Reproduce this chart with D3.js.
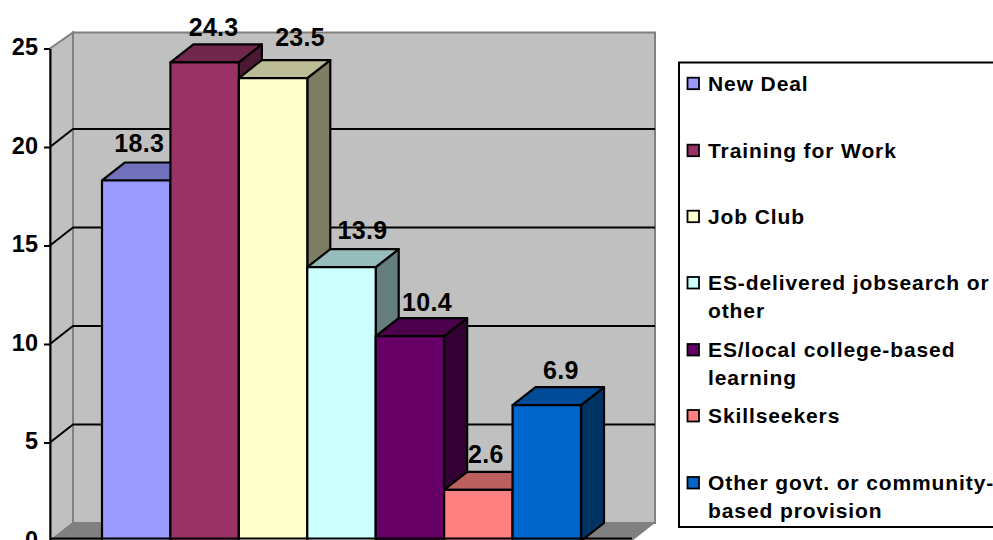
<!DOCTYPE html>
<html>
<head>
<meta charset="utf-8">
<script src="https://cdn.jsdelivr.net/npm/d3@7"></script>
<style>
	html, body { margin: 0; padding: 0; background: #fff; overflow: hidden; }
	svg { display: block; font-family: 'Liberation Sans', Arial, sans-serif; font-weight: bold; }
</style>
</head>
<body>
<div id="chart"></div>
<script>
const categories = [
	'New Deal',
	'Training for Work',
	'Job Club',
	'ES-delivered jobsearch or other',
	'ES/local college-based learning',
	'Skillseekers',
	'Other govt. or community-based provision'
];
const values = [18.3, 24.3, 23.5, 13.9, 10.4, 2.6, 6.9];
const colors = ['#9999ff', '#993366', '#ffffcc', '#ccffff', '#660066', '#ff8080', '#0066cc'];
const yTicks = [0, 5, 10, 15, 20, 25];
const legendLines = [
	['New Deal'],
	['Training for Work'],
	['Job Club'],
	['ES-delivered jobsearch or', 'other'],
	['ES/local college-based', 'learning'],
	['Skillseekers'],
	['Other govt. or community-', 'based provision']
];

// depth of the fake 3d box
const depthX = 23;
const depthY = 18;

const svg = d3.select('#chart').append('svg').attr('width', 993).attr('height', 540);

const x = d3.scaleBand().domain(categories).range([102, 581]).padding(0);
const y = d3.scaleLinear().domain([0, 25]).range([541, 48.5]);

const axisX = 50;
const floorRight = 632;

// walls and floor
svg.append('path')
	.attr('d', `M${axisX},${y(25)}L${axisX + depthX},${y(25) - 16}V${y(0) - depthY}L${axisX},${y(0)}Z`)
	.attr('fill', '#c0c0c0')
	.attr('stroke', '#808080')
	.attr('stroke-width', 2);
svg.append('rect')
	.attr('x', axisX + depthX)
	.attr('y', y(25) - 16)
	.attr('width', floorRight - axisX)
	.attr('height', y(0) - depthY - y(25) + 16)
	.attr('fill', '#c0c0c0')
	.attr('stroke', '#808080')
	.attr('stroke-width', 2);
svg.append('path')
	.attr('d', `M${axisX},${y(0)}L${axisX + depthX},${y(0) - depthY}H${floorRight + depthX}L${floorRight},${y(0)}Z`)
	.attr('fill', '#808080');

// gridlines
const grid = svg.append('g').attr('fill', 'none').attr('stroke', '#000').attr('stroke-width', 2);
yTicks.filter((t) => t > 0 && t < 25).forEach((t) => {
	grid.append('path').attr(
		'd',
		`M${axisX},${y(t)}L${axisX + depthX},${y(t) - depthY}H${floorRight + depthX}`
	);
});

const yAxis = svg
	.append('g')
	.attr('transform', `translate(${axisX},0)`)
	.call(d3.axisLeft(y).tickValues(yTicks).tickSize(6).tickPadding(6).tickSizeOuter(0));
yAxis.select('.domain').attr('stroke', '#000').attr('stroke-width', 2);
yAxis.selectAll('.tick line').attr('stroke', '#000').attr('stroke-width', 2);
yAxis.selectAll('text')
	.attr('font-family', "'Liberation Sans', Arial, sans-serif")
	.attr('font-size', 23.5)
	.attr('font-weight', 'bold')
	.attr('fill', '#000')
	.attr('dy', '0.26em');

// bars
const bars = svg
	.selectAll('.bar')
	.data(categories)
	.enter()
	.append('g')
	.attr('class', 'bar')
	.attr('stroke', '#000')
	.attr('stroke-width', 2.2)
	.attr('stroke-linejoin', 'round');

bars.append('path')
	.attr('d', (d, i) => {
		const x1 = x(d) + x.bandwidth();
		return `M${x1},${y(values[i])}l${depthX},${-depthY}V${y(0) - depthY}L${x1},${y(0)}Z`;
	})
	.attr('fill', (d, i) => d3.color(colors[i]).darker(2).formatHex());
bars.append('path')
	.attr('d', (d, i) => {
		const x0 = x(d);
		const w = x.bandwidth();
		return `M${x0},${y(values[i])}l${depthX},${-depthY}h${w}l${-depthX},${depthY}Z`;
	})
	.attr('fill', (d, i) => d3.color(colors[i]).darker(0.85).formatHex());
bars.append('rect')
	.attr('x', (d) => x(d))
	.attr('y', (d, i) => y(values[i]))
	.attr('width', x.bandwidth())
	.attr('height', (d, i) => y(0) - y(values[i]))
	.attr('fill', (d, i) => colors[i]);

svg.append('line')
	.attr('x1', axisX)
	.attr('x2', floorRight)
	.attr('y1', 538.5)
	.attr('y2', 538.5)
	.attr('stroke', '#000')
	.attr('stroke-width', 2);

// data labels were dragged around by hand in the original
const labelDx = [3, 9, 27, 21, 17, 7.5, 14];
const labelDy = [-28.7, -26, -32, -28.5, -25, -27, -26];

svg.selectAll('.value-label')
	.data(categories)
	.enter()
	.append('text')
	.attr('class', 'value-label')
	.attr('x', (d, i) => x(d) + x.bandwidth() / 2 + labelDx[i])
	.attr('y', (d, i) => y(values[i]) + labelDy[i])
	.attr('text-anchor', 'middle')
	.attr('font-size', 25)
	.attr('letter-spacing', 0.3)
	.text((d, i) => values[i].toFixed(1));

// legend
svg.append('rect')
	.attr('x', 679)
	.attr('y', 62.5)
	.attr('width', 340)
	.attr('height', 464.5)
	.attr('fill', '#fff')
	.attr('stroke', '#000')
	.attr('stroke-width', 2);

const legendBaselines = [90.7, 157.7, 223.7, 290, 357, 423, 490];
const legendItems = svg
	.selectAll('.legend-item')
	.data(legendLines)
	.enter()
	.append('g')
	.attr('class', 'legend-item')
	.attr('transform', (d, i) => `translate(0,${legendBaselines[i]})`);

legendItems.append('rect')
	.attr('x', 687.5)
	.attr('y', -13)
	.attr('width', 11.5)
	.attr('height', 11.5)
	.attr('fill', (d, i) => colors[i])
	.attr('stroke', '#000')
	.attr('stroke-width', 1.8);

legendItems.append('text')
	.attr('font-size', 21)
	.attr('letter-spacing', 0.9)
	.selectAll('tspan')
	.data((d) => d)
	.enter()
	.append('tspan')
	.attr('x', 708)
	.attr('y', (d, i) => i * 28)
	.text((d) => d);
</script>
</body>
</html>
